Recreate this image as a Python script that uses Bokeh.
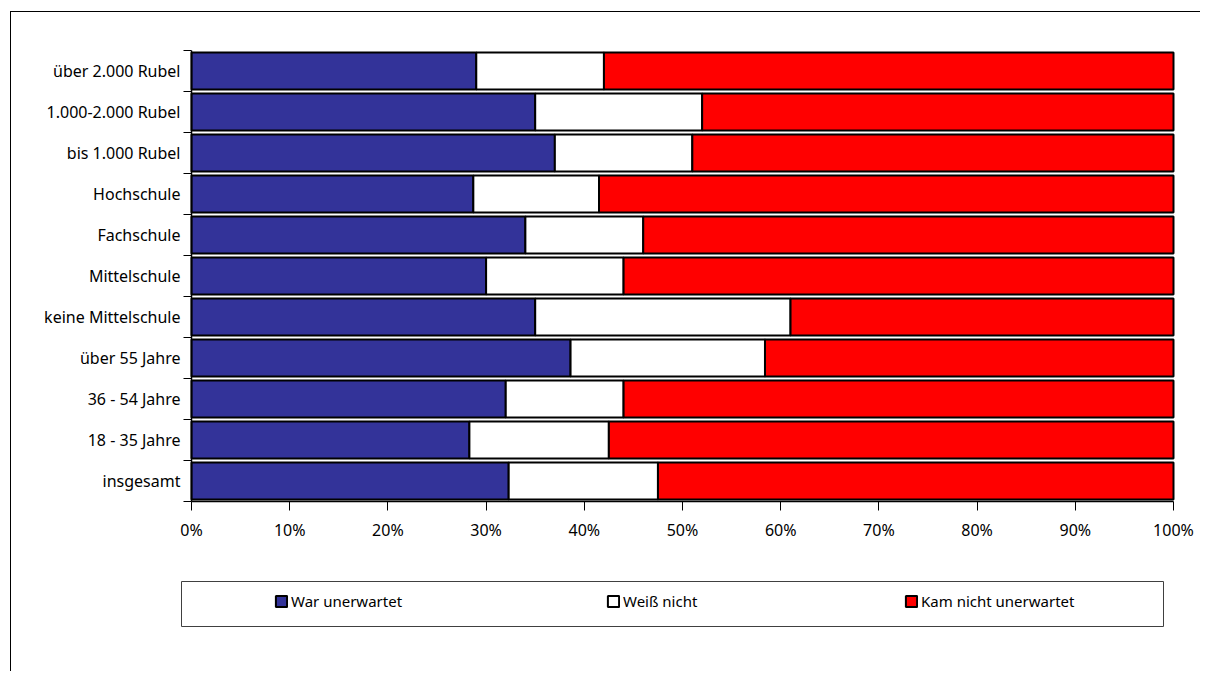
from bokeh.plotting import figure
from bokeh.models import (BoxAnnotation, ColumnDataSource, FixedTicker, Legend,
                          LegendItem, Range1d)
from bokeh.embed import file_html
from bokeh.resources import INLINE

# ---------------- data ----------------
categories = ["insgesamt", "18 - 35 Jahre", "36 - 54 Jahre", "über 55 Jahre",
              "keine Mittelschule", "Mittelschule", "Fachschule", "Hochschule",
              "bis 1.000 Rubel", "1.000-2.000 Rubel", "über 2.000 Rubel"]
war_unerwartet = [32.3, 28.3, 32.0, 38.6, 35.0, 30.0, 34.0, 28.7, 37.0, 35.0, 29.0]
weiss_nicht = [15.2, 14.2, 12.0, 19.8, 26.0, 14.0, 12.0, 12.8, 14.0, 17.0, 13.0]
kam_nicht_unerwartet = [52.5, 57.5, 56.0, 41.6, 39.0, 56.0, 54.0, 58.5, 49.0, 48.0, 58.0]
series_names = ["War unerwartet", "Weiß nicht", "Kam nicht unerwartet"]
series_colors = ["#333399", "#FFFFFF", "#FF0000"]
x_ticks = [0, 10, 20, 30, 40, 50, 60, 70, 80, 90, 100]

FONT = "Noto Sans"

n = len(categories)
centers = [i + 0.5 for i in range(n)]
source = ColumnDataSource(dict(y=centers, s0=war_unerwartet, s1=weiss_nicht,
                               s2=kam_nicht_unerwartet))

# ---------------- layout (pixels) ----------------
# The canvas starts at (11, 12) in the window; the frame fills the whole canvas,
# both axes are pinned at 0 so that labels and the legend sit inside it.
W, H = 1190, 660
ORIG_X, ORIG_Y = 11, 12
PX0, PX100 = 191, 1173          # window x of 0 % and 100 %
PY_TOP, PY_BOTTOM = 50, 501     # window y of the top and bottom of the bar block
px_per_x = (PX100 - PX0) / 100.0
px_per_y = (PY_BOTTOM - PY_TOP) / float(n)
x_min = -(PX0 - ORIG_X) / px_per_x
x_max = 100 + (ORIG_X + W - PX100) / px_per_x
y_max = n + (PY_TOP - ORIG_Y) / px_per_y
y_min = -(ORIG_Y + H - PY_BOTTOM) / px_per_y


def wx(px):
    return (px - PX0) / px_per_x


def wy(py):
    return (PY_BOTTOM - py) / px_per_y


p = figure(width=W, height=H, output_backend="svg", toolbar_location=None,
           x_range=Range1d(x_min, x_max), y_range=Range1d(y_min, y_max),
           min_border_left=0, min_border_top=0, min_border_right=0,
           min_border_bottom=0)
p.margin = (11, 0, 0, 10)
p.styles = {"border-top": "1px solid #000000", "border-left": "1px solid #000000"}
p.outline_line_color = None
p.xgrid.grid_line_color = None
p.ygrid.grid_line_color = None
p.background_fill_color = "white"
p.border_fill_color = "white"

renderers = p.hbar_stack(["s0", "s1", "s2"], y="y", height=0.9, source=source,
                         color=series_colors, line_color="black", line_width=2)
for r in renderers:
    r.glyph.line_color = "black"

# axis lines only along the extent of the bar block
p.segment(x0=[0, 0], y0=[0, 0], x1=[0, 100], y1=[n, 0],
          line_color="black", line_width=1.5)

# x axis, pinned at the bottom of the bars
xa = p.xaxis[0]
xa.fixed_location = 0
xa.ticker = FixedTicker(ticks=x_ticks, minor_ticks=[])
xa.major_label_overrides = {t: f"{t}%" for t in x_ticks}
xa.major_tick_out = 9
xa.major_tick_in = 0
xa.major_tick_line_color = "black"
xa.axis_line_color = None
xa.major_label_standoff = 8
xa.major_label_text_font = FONT
xa.major_label_text_font_size = "16px"
xa.major_label_text_color = "black"

# y axis pinned at 0 %: labels at band centers, ticks at band boundaries
ya = p.yaxis[0]
ya.fixed_location = 0
ya.ticker = FixedTicker(ticks=centers, minor_ticks=list(range(n + 1)))
ya.major_label_overrides = {c: lab for c, lab in zip(centers, categories)}
ya.major_tick_out = 0
ya.major_tick_in = 0
ya.minor_tick_out = 8
ya.minor_tick_in = 0
ya.minor_tick_line_color = "black"
ya.axis_line_color = None
ya.major_label_standoff = 3
ya.major_label_text_font = FONT
ya.major_label_text_font_size = "16px"
ya.major_label_text_color = "black"

# legend frame: window x 181..1163, y 581..626
legend_box = BoxAnnotation(left=wx(181), right=wx(1163), top=wy(581), bottom=wy(626),
                           fill_color="white", fill_alpha=1.0,
                           line_color="#404040", line_width=1, line_alpha=1.0)
p.add_layout(legend_box)

# one legend entry per slot, as in the reference (window x of each marker)
slot_x = [274, 606, 904]
for name, r, sx in zip(series_names, renderers, slot_x):
    lg = Legend(items=[LegendItem(label=name, renderers=[r])],
                orientation="horizontal",
                location=(sx - ORIG_X, ORIG_Y + H - 611))
    lg.padding = 0
    lg.spacing = 0
    lg.glyph_width = 14
    lg.glyph_height = 14
    lg.label_height = 14
    lg.label_standoff = 3
    lg.label_text_font = FONT
    lg.label_text_font_size = "15px"
    lg.label_text_color = "black"
    lg.border_line_color = None
    lg.background_fill_alpha = 0.0
    lg.margin = 0
    p.add_layout(lg)

open("out.html", "w").write(file_html(p, INLINE))
